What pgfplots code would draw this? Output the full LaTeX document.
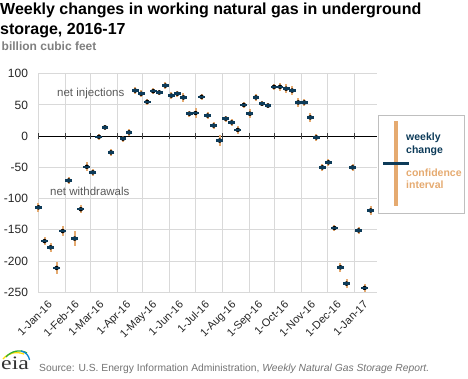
\documentclass[border=0pt]{standalone}
\usepackage{fontspec}
\setmainfont{Liberation Sans}
\newfontfamily\logofont{Liberation Serif}
\usepackage{pgfplots}
\pgfplotsset{compat=1.18}
\usepackage{pgfplotstable}
\definecolor{navy}{HTML}{0D3B59}
\definecolor{ciorange}{HTML}{E5AA70}
\definecolor{gridgray}{HTML}{D9D9D9}
\definecolor{txtgray}{HTML}{595959}
\definecolor{subgray}{HTML}{7F7F7F}
\definecolor{boxgray}{HTML}{BFBFBF}

\pgfplotstableread{
day val err
0 -114 7
7 -168 6
14 -178 7
21 -211 9
28 -152 8
35 -71 6
42 -164 12
49 -117 6
56 -49 7
63 -58 5
70 -1 5
77 14 4
84 -26 5
98 -4 5
105 6 6
112 73 6
119 68 6
126 55 5
133 72 5
140 70 4
147 81 6
154 65 5
161 68 5
168 62 7
175 36 5
182 37 8
189 63 5
196 33 5
203 17 5
210 -7 9
217 28 5
224 22 5
231 10 6
238 50 5
245 36 7
252 62 5
259 52 4
266 49 4
273 79 5
280 79 6
287 76 7
294 73 7
301 54 7
308 54 6
315 30 7
322 -2 5
329 -50 6
336 -42 6
343 -147 5
350 -210 7
357 -236 7
364 -50 6
371 -151 6
378 -243 6
385 -119 7
}\datatable

\begin{document}
\begin{tikzpicture}
\useasboundingbox (0,0) rectangle (468pt,378pt);
\begin{axis}[
  at={(38.5pt,85.7pt)}, anchor=south west,
  scale only axis, width=338.2pt, height=218.6pt,
  xmin=0, xmax=392, ymin=-250, ymax=100,
  axis line style={draw=none},
  major tick length=0pt,
  xtick={0,31,60,91,121,152,182,213,244,274,305,335,366},
  xticklabels={1-Jan-16,1-Feb-16,1-Mar-16,1-Apr-16,1-May-16,1-Jun-16,1-Jul-16,1-Aug-16,1-Sep-16,1-Oct-16,1-Nov-16,1-Dec-16,1-Jan-17},
  ytick={-250,-200,-150,-100,-50,0,50,100},
  yticklabels={-250,-200,-150,-100,-50,0,50,100},
  grid=major, grid style={gridgray, line width=0.9pt},
  xticklabel style={rotate=45, anchor=north east, inner sep=0pt, yshift=-11.5pt, xshift=1pt, font=\fontsize{11}{13}\selectfont, text=black!85},
  yticklabel style={font=\fontsize{12}{14}\selectfont, text=black!85, xshift=-7pt},
  clip=false,
]
\addplot[black, line width=1.2pt] coordinates {(0,0) (392,0)};
\addplot[only marks, mark=|, mark size=3pt, mark options={black!75, line width=1pt}] coordinates {(0,0) (31,0) (60,0) (91,0) (121,0) (152,0) (182,0) (213,0) (244,0) (274,0) (305,0) (335,0) (366,0)};
\addplot[only marks, mark=none, error bars/.cd, y dir=both, y explicit, error mark=none, error bar style={ciorange, line width=2pt}] table[x=day, y=val, y error=err] {\datatable};
\addplot[only marks, mark=-, mark size=3.4pt, mark options={navy, line width=2.4pt}] table[x=day, y=val] {\datatable};
\end{axis}
% annotations
\node[anchor=base west, inner sep=0pt, text=txtgray, font=\fontsize{11.5}{13}\selectfont] at (57pt,281pt) {net injections};
\node[anchor=base west, inner sep=0pt, text=txtgray, font=\fontsize{11.5}{13}\selectfont] at (50pt,183pt) {net withdrawals};
% title
\node[anchor=base west, inner sep=0pt, font=\bfseries\fontsize{16}{19}\selectfont] at (0pt,363pt) {Weekly changes in working natural gas in underground};
\node[anchor=base west, inner sep=0pt, font=\bfseries\fontsize{16}{19}\selectfont] at (0pt,343pt) {storage, 2016-17};
\node[anchor=base west, inner sep=0pt, text=subgray, font=\bfseries\fontsize{12}{14}\selectfont] at (1.5pt,327.3pt) {billion cubic feet};
% legend
\draw[boxgray, line width=0.8pt] (378pt,263pt) rectangle (464pt,165pt);
\fill[ciorange] (394pt,257pt) rectangle (398.3pt,172pt);
\draw[navy, line width=3.3pt] (383.3pt,214.3pt) -- (408.7pt,214.3pt);
\node[anchor=base west, inner sep=0pt, text=navy, font=\bfseries\fontsize{10.5}{12}\selectfont] at (406pt,237pt) {weekly};
\node[anchor=base west, inner sep=0pt, text=navy, font=\bfseries\fontsize{10.5}{12}\selectfont] at (406pt,224pt) {change};
\node[anchor=base west, inner sep=0pt, text=ciorange, font=\bfseries\fontsize{10.5}{12}\selectfont] at (406pt,201pt) {confidence};
\node[anchor=base west, inner sep=0pt, text=ciorange, font=\bfseries\fontsize{10.5}{12}\selectfont] at (406pt,189.5pt) {interval};
% footer
\node[anchor=base west, inner sep=0pt, text=black!80, font=\logofont\fontsize{19}{20}\selectfont, xscale=1.25] at (1pt,8.5pt) {eia};
\draw[yellow!80!orange, line width=1.3pt] (3pt,19pt) .. controls (8pt,25pt) and (16pt,27pt) .. (24pt,24pt);
\draw[green!60!black!80, line width=1.3pt] (6pt,21pt) .. controls (11pt,27pt) and (20pt,29pt) .. (27pt,25pt);
\draw[cyan!70!blue, line width=1.3pt] (21pt,27pt) .. controls (26pt,26pt) and (29pt,22pt) .. (29.5pt,18pt);
\node[anchor=base west, inner sep=0pt, text=black!55, font=\fontsize{10.3}{12}\selectfont] at (39pt,6.3pt) {Source: U.S. Energy Information Administration, \textit{Weekly Natural Gas Storage Report.}};
\end{tikzpicture}
\end{document}
